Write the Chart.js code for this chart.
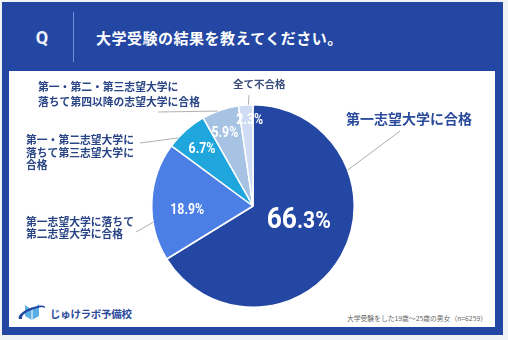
<!DOCTYPE html>
<html lang="ja">
<head>
<meta charset="utf-8">
<title>大学受験の結果</title>
<script src="https://cdn.jsdelivr.net/npm/chart.js@4.4.0/dist/chart.umd.min.js"></script>
<style>
  html, body { margin: 0; padding: 0; }
  body {
    width: 508px; height: 340px; position: relative; overflow: hidden;
    background: #f1f2f4;
    font-family: "Noto Sans CJK JP", "Noto Sans", sans-serif;
  }
  #frame { position: absolute; left: 2px; top: 2px; width: 501px; height: 333px; background: #2447a3; }
  #panel { position: absolute; left: 9px; top: 71px; width: 486px; height: 256px; background: #fff; }
  #q {
    position: absolute; left: 31px; top: 25px; width: 22px; text-align: center;
    color: #eef3ff; font: 700 18px/26px Roboto, sans-serif;
  }
  #divider { position: absolute; left: 73px; top: 12px; width: 1px; height: 50px; background: #6e8ed8; }
  #title {
    position: absolute; left: 96px; top: 27px; color: #fff;
    font: 700 15px/22px "Noto Sans CJK JP", sans-serif; letter-spacing: 0.5px;
  }
  #logo { position: absolute; left: 16px; top: 302px; width: 31px; height: 20px; }
  #logoText {
    position: absolute; left: 50px; top: 306px; color: #2c4b9b;
    font: 700 10.5px/16px "Noto Sans CJK JP", sans-serif; letter-spacing: -0.3px;
  }
  #note {
    position: absolute; right: 21px; top: 313px; color: #666;
    font: 400 6.8px/10px "Noto Sans CJK JP", sans-serif;
  }
  #chart { position: absolute; left: 0; top: 0; }
</style>
</head>
<body>
<div id="frame"></div>
<div id="panel"></div>
<div id="q">Q</div>
<div id="divider"></div>
<div id="title">大学受験の結果を教えてください。</div>

<svg id="logo" viewBox="0 0 31 20">
  <!-- 開いた本 -->
  <path d="M9 3 L16 8 L23 2 L23 14 L16 18 L9 14 Z" fill="#5aaee6"/>
  <path d="M16 8 L16 18" stroke="#fff" stroke-width="1"/>
  <!-- 本を囲む軌道 -->
  <path d="M3 17 C1 13 10 6 22 4 C27 3 30 4 29 6 C28 5 24 5 20 6.5 C11 9 5 13 6 17 Z" fill="#2447a3"/>
</svg>
<div id="logoText">じゅけラボ予備校</div>
<div id="note">大学受験をした19歳～25歳の男女（n=6259）</div>

<canvas id="chart" width="508" height="340"></canvas>

<script>
// 回答カテゴリ（表示用の改行つき）
const categories = [
    ['第一志望大学に合格'],
    ['第一志望大学に落ちて', '第二志望大学に合格'],
    ['第一・第二志望大学に', '落ちて第三志望大学に', '合格'],
    ['第一・第二・第三志望大学に', '落ちて第四以降の志望大学に合格'],
    ['全て不合格']
];

// 割合（%）
const values = [66.3, 18.9, 6.7, 5.9, 2.3];

// 扇の色
const sliceColors = ['#2447a3', '#4c7fe6', '#1ea6dd', '#a6c3e4', '#cfdcf3'];

// パーセント表示の位置（中心からの半径比・角度のずれ）と文字サイズ
const pctStyle = [
    { frac: 0.465, shift: -15.7, size: 30, small: 24 },
    { frac: 0.65,  shift: -4.7,  size: 14 },
    { frac: 0.76,  shift: 0,     size: 14 },
    { frac: 0.78,  shift: -2,    size: 14 },
    { frac: 0.86,  shift: 2,     size: 14 }
];

// 外側ラベルの位置・引き出し線
const outerStyle = [
    { x: 346, y: 119, size: 14,   gap: 0,    color: '#2a4a9c', edge: -50,   to: [400, 131] },
    { x: 26,  y: 222, size: 10.8, gap: 12.3, color: '#2a4585', edge: -11.7, to: [136, 232] },
    { x: 26,  y: 140, size: 10.8, gap: 12.4, color: '#2a4585', edge: -6.2,  to: [140, 143] },
    { x: 38,  y: 87,  size: 10.8, gap: 15,   color: '#2a4585', edge: -1.5,  to: [158, 112] },
    { x: 233, y: 84,  size: 10.5, gap: 0,    color: '#3a4d7c', edge: 1.5,   to: [249, 95] }
];

const deg = Math.PI / 180;

// ラベルと引き出し線を描くプラグイン
const labelPlugin = {
    id: 'pieLabels',
    afterDatasetsDraw(chart) {
        const ctx = chart.ctx;
        const arcs = chart.getDatasetMeta(0).data;

        arcs.forEach(function(arc, i) {
            const mid = (arc.startAngle + arc.endAngle) / 2;

            // 引き出し線
            const o = outerStyle[i];
            const a = mid + o.edge * deg;
            ctx.save();
            ctx.strokeStyle = '#9a9a9a';
            ctx.lineWidth = 0.8;
            ctx.beginPath();
            ctx.moveTo(arc.x + Math.cos(a) * arc.outerRadius, arc.y + Math.sin(a) * arc.outerRadius);
            ctx.lineTo(o.to[0], o.to[1]);
            ctx.stroke();

            // カテゴリ名
            ctx.fillStyle = o.color;
            ctx.font = '700 ' + o.size + 'px "Noto Sans CJK JP", sans-serif';
            ctx.textAlign = 'left';
            ctx.textBaseline = 'middle';
            categories[i].forEach(function(line, k) {
                ctx.fillText(line, o.x, o.y + k * o.gap);
            });
            ctx.restore();

            // パーセント
            const p = pctStyle[i];
            const pa = mid + p.shift * deg;
            const r = arc.outerRadius * p.frac;
            const cx = arc.x + Math.cos(pa) * r;
            const cy = arc.y + Math.sin(pa) * r;
            const text = values[i].toFixed(1) + '%';

            ctx.save();
            ctx.fillStyle = '#ffffff';
            ctx.textAlign = 'left';
            ctx.textBaseline = 'alphabetic';
            ctx.translate(cx, cy);
            ctx.scale(0.88, 1);
            if (p.small) {
                // 整数部分を大きく、小数点以下を小さく
                const head = text.split('.')[0];
                const tail = '.' + text.split('.')[1];
                ctx.font = '700 ' + p.size + 'px Roboto, sans-serif';
                const w1 = ctx.measureText(head).width;
                ctx.font = '700 ' + p.small + 'px Roboto, sans-serif';
                const w2 = ctx.measureText(tail).width;
                const x0 = -(w1 + w2) / 2;
                const base = p.size * 0.355;
                ctx.font = '700 ' + p.size + 'px Roboto, sans-serif';
                ctx.fillText(head, x0, base);
                ctx.font = '700 ' + p.small + 'px Roboto, sans-serif';
                ctx.fillText(tail, x0 + w1, base);
            } else {
                ctx.font = '700 ' + p.size + 'px Roboto, sans-serif';
                const w = ctx.measureText(text).width;
                ctx.fillText(text, -w / 2, p.size * 0.355);
            }
            ctx.restore();
        });
    }
};

const chartCtx = document.getElementById('chart').getContext('2d');
const pieChart = new Chart(chartCtx, {
    type: 'pie',
    data: {
        labels: categories.map(function(c) { return c.join(''); }),
        datasets: [{
            data: values,
            backgroundColor: sliceColors,
            borderColor: '#ffffff',
            borderWidth: 1.5
        }]
    },
    options: {
        responsive: false,
        animation: false,
        layout: {
            padding: { left: 151, right: 153, top: 104, bottom: 32 }
        },
        plugins: {
            legend: { display: false },
            tooltip: { enabled: false }
        }
    },
    plugins: [labelPlugin]
});
</script>
</body>
</html>
